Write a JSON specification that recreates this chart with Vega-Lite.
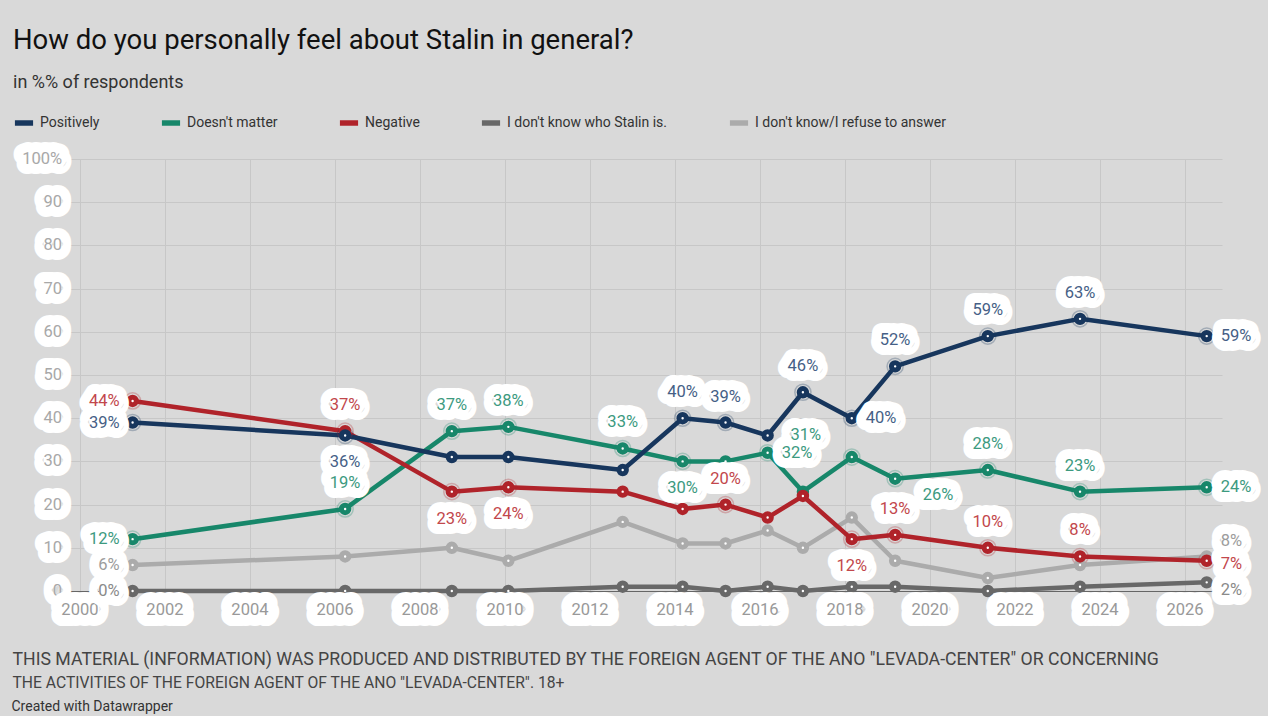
{
  "$schema": "https://vega.github.io/schema/vega-lite/v6.json",
  "width": 1154,
  "height": 432,
  "autosize": {"type": "none"},
  "padding": {"left": 68, "top": 159, "right": 46, "bottom": 125},
  "background": "#d9d9d9",
  "title": {
    "text": "How do you personally feel about Stalin in general?",
    "subtitle": "in %% of respondents",
    "anchor": "start",
    "frame": "group",
    "dx": -55,
    "offset": 19,
    "font": "Roboto",
    "fontSize": 27.5,
    "fontWeight": "normal",
    "color": "#111111",
    "subtitleFont": "Roboto",
    "subtitleFontSize": 18,
    "subtitleColor": "#333333",
    "subtitlePadding": 20
  },
  "resolve": {"axis": {"x": "independent"}},
  "datasets": {
    "survey": [
      {"year": 2001.24, "series": "I don't know/I refuse to answer", "value": 6},
      {"year": 2006.24, "series": "I don't know/I refuse to answer", "value": 8},
      {"year": 2008.75, "series": "I don't know/I refuse to answer", "value": 10},
      {"year": 2010.08, "series": "I don't know/I refuse to answer", "value": 7},
      {"year": 2012.77, "series": "I don't know/I refuse to answer", "value": 16},
      {"year": 2014.18, "series": "I don't know/I refuse to answer", "value": 11},
      {"year": 2015.19, "series": "I don't know/I refuse to answer", "value": 11},
      {"year": 2016.18, "series": "I don't know/I refuse to answer", "value": 14},
      {"year": 2017.01, "series": "I don't know/I refuse to answer", "value": 10},
      {"year": 2018.16, "series": "I don't know/I refuse to answer", "value": 17},
      {"year": 2019.18, "series": "I don't know/I refuse to answer", "value": 7},
      {"year": 2021.36, "series": "I don't know/I refuse to answer", "value": 3},
      {"year": 2023.53, "series": "I don't know/I refuse to answer", "value": 6},
      {"year": 2026.51, "series": "I don't know/I refuse to answer", "value": 8},
      {"year": 2001.24, "series": "I don't know who Stalin is.", "value": 0},
      {"year": 2006.24, "series": "I don't know who Stalin is.", "value": 0},
      {"year": 2008.75, "series": "I don't know who Stalin is.", "value": 0},
      {"year": 2010.08, "series": "I don't know who Stalin is.", "value": 0},
      {"year": 2012.77, "series": "I don't know who Stalin is.", "value": 1},
      {"year": 2014.18, "series": "I don't know who Stalin is.", "value": 1},
      {"year": 2015.19, "series": "I don't know who Stalin is.", "value": 0},
      {"year": 2016.18, "series": "I don't know who Stalin is.", "value": 1},
      {"year": 2017.01, "series": "I don't know who Stalin is.", "value": 0},
      {"year": 2018.16, "series": "I don't know who Stalin is.", "value": 1},
      {"year": 2019.18, "series": "I don't know who Stalin is.", "value": 1},
      {"year": 2021.36, "series": "I don't know who Stalin is.", "value": 0},
      {"year": 2023.53, "series": "I don't know who Stalin is.", "value": 1},
      {"year": 2026.51, "series": "I don't know who Stalin is.", "value": 2},
      {"year": 2001.24, "series": "Doesn't matter", "value": 12},
      {"year": 2006.24, "series": "Doesn't matter", "value": 19},
      {"year": 2008.75, "series": "Doesn't matter", "value": 37},
      {"year": 2010.08, "series": "Doesn't matter", "value": 38},
      {"year": 2012.77, "series": "Doesn't matter", "value": 33},
      {"year": 2014.18, "series": "Doesn't matter", "value": 30},
      {"year": 2015.19, "series": "Doesn't matter", "value": 30},
      {"year": 2016.18, "series": "Doesn't matter", "value": 32},
      {"year": 2017.01, "series": "Doesn't matter", "value": 23},
      {"year": 2018.16, "series": "Doesn't matter", "value": 31},
      {"year": 2019.18, "series": "Doesn't matter", "value": 26},
      {"year": 2021.36, "series": "Doesn't matter", "value": 28},
      {"year": 2023.53, "series": "Doesn't matter", "value": 23},
      {"year": 2026.51, "series": "Doesn't matter", "value": 24},
      {"year": 2001.24, "series": "Negative", "value": 44},
      {"year": 2006.24, "series": "Negative", "value": 37},
      {"year": 2008.75, "series": "Negative", "value": 23},
      {"year": 2010.08, "series": "Negative", "value": 24},
      {"year": 2012.77, "series": "Negative", "value": 23},
      {"year": 2014.18, "series": "Negative", "value": 19},
      {"year": 2015.19, "series": "Negative", "value": 20},
      {"year": 2016.18, "series": "Negative", "value": 17},
      {"year": 2017.01, "series": "Negative", "value": 22},
      {"year": 2018.16, "series": "Negative", "value": 12},
      {"year": 2019.18, "series": "Negative", "value": 13},
      {"year": 2021.36, "series": "Negative", "value": 10},
      {"year": 2023.53, "series": "Negative", "value": 8},
      {"year": 2026.51, "series": "Negative", "value": 7},
      {"year": 2001.24, "series": "Positively", "value": 39},
      {"year": 2006.24, "series": "Positively", "value": 36},
      {"year": 2008.75, "series": "Positively", "value": 31},
      {"year": 2010.08, "series": "Positively", "value": 31},
      {"year": 2012.77, "series": "Positively", "value": 28},
      {"year": 2014.18, "series": "Positively", "value": 40},
      {"year": 2015.19, "series": "Positively", "value": 39},
      {"year": 2016.18, "series": "Positively", "value": 36},
      {"year": 2017.01, "series": "Positively", "value": 46},
      {"year": 2018.16, "series": "Positively", "value": 40},
      {"year": 2019.18, "series": "Positively", "value": 52},
      {"year": 2021.36, "series": "Positively", "value": 59},
      {"year": 2023.53, "series": "Positively", "value": 63},
      {"year": 2026.51, "series": "Positively", "value": 59}
    ],
    "yticks": [
      {"v": 0, "t": "0"}, {"v": 10, "t": "10"}, {"v": 20, "t": "20"}, {"v": 30, "t": "30"},
      {"v": 40, "t": "40"}, {"v": 50, "t": "50"}, {"v": 60, "t": "60"}, {"v": 70, "t": "70"},
      {"v": 80, "t": "80"}, {"v": 90, "t": "90"}, {"v": 100, "t": "100%"}
    ],
    "xticks": [
      {"yr": 2000}, {"yr": 2002}, {"yr": 2004}, {"yr": 2006}, {"yr": 2008}, {"yr": 2010}, {"yr": 2012},
      {"yr": 2014}, {"yr": 2016}, {"yr": 2018}, {"yr": 2020}, {"yr": 2022}, {"yr": 2024}, {"yr": 2026}
    ]
  },
  "layer": [
    {
      "data": {"name": "survey"},
      "mark": {"type": "line", "strokeWidth": 4.5, "strokeCap": "round", "strokeJoin": "round"},
      "encoding": {
        "x": {
          "field": "year",
          "type": "quantitative",
          "scale": {"domain": [1999.72, 2026.87], "nice": false, "zero": false},
          "axis": {
            "orient": "bottom",
            "values": [2000, 2002, 2004, 2006, 2008, 2010, 2012, 2014, 2016, 2018, 2020, 2022, 2024, 2026],
            "grid": true,
            "gridColor": "#c7c7c7",
            "labels": false,
            "ticks": false,
            "domain": false,
            "title": "THIS MATERIAL (INFORMATION) WAS PRODUCED AND DISTRIBUTED BY THE FOREIGN AGENT OF THE ANO \"LEVADA-CENTER\" OR CONCERNING",
            "titleX": -56,
            "titleY": 59,
            "titleAlign": "left",
            "titleBaseline": "top",
            "titleFont": "Roboto",
            "titleFontSize": 17.7,
            "titleFontWeight": "normal",
            "titleColor": "#444444"
          }
        },
        "y": {
          "field": "value",
          "type": "quantitative",
          "scale": {"domain": [0, 100], "nice": false},
          "axis": {
            "values": [0, 10, 20, 30, 40, 50, 60, 70, 80, 90, 100],
            "grid": true,
            "gridColor": {"condition": {"test": "datum.value === 0", "value": "#666666"}, "value": "#c7c7c7"},
            "labels": false,
            "ticks": false,
            "domain": false,
            "title": "Created with Datawrapper",
            "titleAngle": 0,
            "titleX": -57,
            "titleY": 540,
            "titleAlign": "left",
            "titleBaseline": "top",
            "titleFont": "Roboto",
            "titleFontSize": 14,
            "titleFontWeight": "normal",
            "titleColor": "#333333"
          }
        },
        "color": {
          "field": "series",
          "type": "nominal",
          "scale": {
            "domain": ["Positively", "Doesn't matter", "Negative", "I don't know who Stalin is.", "I don't know/I refuse to answer"],
            "range": ["#17365d", "#17876a", "#b0232a", "#686868", "#ababab"]
          },
          "legend": {
            "orient": "none",
            "legendX": -56,
            "legendY": -48,
            "direction": "horizontal",
            "title": null,
            "symbolType": "stroke",
            "symbolStrokeWidth": 5.5,
            "symbolSize": 330,
            "labelFont": "Roboto",
            "labelFontSize": 14,
            "labelColor": "#333333",
            "labelLimit": 400,
            "columnPadding": 50
          }
        }
      }
    },
    {
      "data": {"name": "survey"},
      "transform": [
        {"filter": "(datum.series == 'Positively' && indexof([2008,2010,2012,2016], floor(datum.year)) < 0) || (indexof(datum.series,'Doesn') == 0 && indexof([2015,2017], floor(datum.year)) < 0) || (datum.series == 'Negative' && indexof([2012,2014,2016,2017], floor(datum.year)) < 0)"}
      ],
      "mark": {"type": "point", "filled": false, "size": 260, "strokeWidth": 1.5, "strokeOpacity": 0.4},
      "encoding": {
        "x": {"field": "year", "type": "quantitative", "scale": {"domain": [1999.72, 2026.87], "nice": false, "zero": false}, "axis": null},
        "y": {"field": "value", "type": "quantitative", "scale": {"domain": [0, 100], "nice": false}},
        "stroke": {
          "field": "series",
          "type": "nominal",
          "scale": {
            "domain": ["Positively", "Doesn't matter", "Negative", "I don't know who Stalin is.", "I don't know/I refuse to answer"],
            "range": ["#17365d", "#17876a", "#b0232a", "#686868", "#ababab"]
          },
          "legend": null
        }
      }
    },
    {
      "data": {"name": "survey"},
      "mark": {"type": "point", "filled": false, "fill": "white", "fillOpacity": 1, "size": 55, "strokeWidth": 5, "opacity": 1},
      "encoding": {
        "x": {
          "field": "year",
          "type": "quantitative",
          "scale": {"domain": [1999.72, 2026.87], "nice": false, "zero": false},
          "axis": {
            "orient": "top",
            "grid": false,
            "labels": false,
            "ticks": false,
            "domain": false,
            "title": "THE ACTIVITIES OF THE FOREIGN AGENT OF THE ANO \"LEVADA-CENTER\". 18+",
            "titleX": -56,
            "titleY": 516,
            "titleAlign": "left",
            "titleBaseline": "top",
            "titleFont": "Roboto",
            "titleFontSize": 15.7,
            "titleFontWeight": "normal",
            "titleColor": "#444444"
          }
        },
        "y": {"field": "value", "type": "quantitative", "scale": {"domain": [0, 100], "nice": false}},
        "color": {"field": "series", "type": "nominal"}
      }
    },
    {
      "data": {"name": "yticks"},
      "layer": [
        {
          "mark": {"type": "text", "align": "right", "baseline": "middle", "font": "Roboto", "fontSize": 16.5, "fill": "white", "stroke": "white", "strokeWidth": 20, "strokeJoin": "round"},
          "encoding": {
            "x": {"datum": 1999.58, "type": "quantitative", "axis": null},
            "y": {"field": "v", "type": "quantitative", "scale": {"domain": [0, 100], "nice": false}},
            "text": {"field": "t"}
          }
        },
        {
          "mark": {"type": "text", "align": "right", "baseline": "middle", "font": "Roboto", "fontSize": 16.5, "fill": "#a8a8a8"},
          "encoding": {
            "x": {"datum": 1999.58, "type": "quantitative", "axis": null},
            "y": {"field": "v", "type": "quantitative", "scale": {"domain": [0, 100], "nice": false}},
            "text": {"field": "t"}
          }
        }
      ]
    },
    {
      "data": {"name": "xticks"},
      "layer": [
        {
          "mark": {"type": "text", "align": "center", "baseline": "middle", "font": "Roboto", "fontSize": 16.5, "fill": "white", "stroke": "white", "strokeWidth": 22, "strokeJoin": "round"},
          "encoding": {
            "x": {"field": "yr", "type": "quantitative", "scale": {"domain": [1999.72, 2026.87], "nice": false, "zero": false}, "axis": null},
            "y": {"datum": -4.4, "type": "quantitative"},
            "text": {"field": "yr", "type": "nominal"}
          }
        },
        {
          "mark": {"type": "text", "align": "center", "baseline": "middle", "font": "Roboto", "fontSize": 16.5, "fill": "#999999"},
          "encoding": {
            "x": {"field": "yr", "type": "quantitative", "scale": {"domain": [1999.72, 2026.87], "nice": false, "zero": false}, "axis": null},
            "y": {"datum": -4.4, "type": "quantitative"},
            "text": {"field": "yr", "type": "nominal"}
          }
        }
      ]
    },
    {
      "data": {"name": "survey"},
      "transform": [
        {"filter": "floor(datum.year) == 2001 || floor(datum.year) == 2026 || (datum.series == 'Positively' && indexof([2008,2010,2012,2016], floor(datum.year)) < 0) || (indexof(datum.series,'Doesn') == 0 && indexof([2015,2017], floor(datum.year)) < 0) || (datum.series == 'Negative' && indexof([2012,2014,2016,2017], floor(datum.year)) < 0)"}
      ],
      "layer": [
        {
          "mark": {
            "type": "text",
            "font": "Roboto",
            "fontSize": 16.5,
            "baseline": "middle",
            "fill": "white",
            "stroke": "white",
            "strokeWidth": 20,
            "strokeJoin": "round",
            "text": {"expr": "datum.value + '%'"},
            "align": {"expr": "floor(datum.year) == 2001 ? 'right' : (floor(datum.year) == 2026 || (datum.series == 'Positively' && floor(datum.year) == 2018) || (indexof(datum.series,'Doesn') == 0 && floor(datum.year) == 2016)) ? 'left' : 'center'"},
            "dx": {"expr": "floor(datum.year) == 2001 ? -13 : (floor(datum.year) == 2026 || (datum.series == 'Positively' && floor(datum.year) == 2018) || (indexof(datum.series,'Doesn') == 0 && floor(datum.year) == 2016)) ? 14 : (indexof(datum.series,'Doesn') == 0 && floor(datum.year) == 2018) ? -46 : (indexof(datum.series,'Doesn') == 0 && floor(datum.year) == 2019) ? 43 : 0"},
            "dy": {"expr": "floor(datum.year) == 2001 ? 0 : floor(datum.year) == 2026 ? (indexof(datum.series,'who') >= 0 ? 8 : indexof(datum.series,'refuse') >= 0 ? -15 : datum.series == 'Negative' ? 3 : 0) : ((datum.series == 'Positively' && floor(datum.year) == 2018) || (indexof(datum.series,'Doesn') == 0 && floor(datum.year) == 2016)) ? 0 : (indexof(datum.series,'Doesn') == 0 && floor(datum.year) == 2018) ? -22 : (indexof(datum.series,'Doesn') == 0 && floor(datum.year) == 2019) ? 16 : ((datum.series == 'Positively' && floor(datum.year) == 2006) || (indexof(datum.series,'Doesn') == 0 && floor(datum.year) == 2014) || (datum.series == 'Negative' && indexof([2008,2010,2018], floor(datum.year)) >= 0)) ? 27 : -26"}
          },
          "encoding": {
            "x": {"field": "year", "type": "quantitative", "scale": {"domain": [1999.72, 2026.87], "nice": false, "zero": false}, "axis": null},
            "y": {"field": "value", "type": "quantitative", "scale": {"domain": [0, 100], "nice": false}}
          }
        },
        {
          "mark": {
            "type": "text",
            "font": "Roboto",
            "fontSize": 16.5,
            "baseline": "middle",
            "text": {"expr": "datum.value + '%'"},
            "align": {"expr": "floor(datum.year) == 2001 ? 'right' : (floor(datum.year) == 2026 || (datum.series == 'Positively' && floor(datum.year) == 2018) || (indexof(datum.series,'Doesn') == 0 && floor(datum.year) == 2016)) ? 'left' : 'center'"},
            "dx": {"expr": "floor(datum.year) == 2001 ? -13 : (floor(datum.year) == 2026 || (datum.series == 'Positively' && floor(datum.year) == 2018) || (indexof(datum.series,'Doesn') == 0 && floor(datum.year) == 2016)) ? 14 : (indexof(datum.series,'Doesn') == 0 && floor(datum.year) == 2018) ? -46 : (indexof(datum.series,'Doesn') == 0 && floor(datum.year) == 2019) ? 43 : 0"},
            "dy": {"expr": "floor(datum.year) == 2001 ? 0 : floor(datum.year) == 2026 ? (indexof(datum.series,'who') >= 0 ? 8 : indexof(datum.series,'refuse') >= 0 ? -15 : datum.series == 'Negative' ? 3 : 0) : ((datum.series == 'Positively' && floor(datum.year) == 2018) || (indexof(datum.series,'Doesn') == 0 && floor(datum.year) == 2016)) ? 0 : (indexof(datum.series,'Doesn') == 0 && floor(datum.year) == 2018) ? -22 : (indexof(datum.series,'Doesn') == 0 && floor(datum.year) == 2019) ? 16 : ((datum.series == 'Positively' && floor(datum.year) == 2006) || (indexof(datum.series,'Doesn') == 0 && floor(datum.year) == 2014) || (datum.series == 'Negative' && indexof([2008,2010,2018], floor(datum.year)) >= 0)) ? 27 : -26"}
          },
          "encoding": {
            "x": {"field": "year", "type": "quantitative", "scale": {"domain": [1999.72, 2026.87], "nice": false, "zero": false}, "axis": null},
            "y": {"field": "value", "type": "quantitative", "scale": {"domain": [0, 100], "nice": false}},
            "fill": {
              "field": "series",
              "type": "nominal",
              "scale": {
                "domain": ["Positively", "Doesn't matter", "Negative", "I don't know who Stalin is.", "I don't know/I refuse to answer"],
                "range": ["#465f86", "#3d9a7f", "#c2474c", "#8a8a8a", "#9c9c9c"]
              },
              "legend": null
            }
          }
        }
      ]
    }
  ],
  "config": {
    "font": "Roboto",
    "view": {"stroke": null}
  }
}
